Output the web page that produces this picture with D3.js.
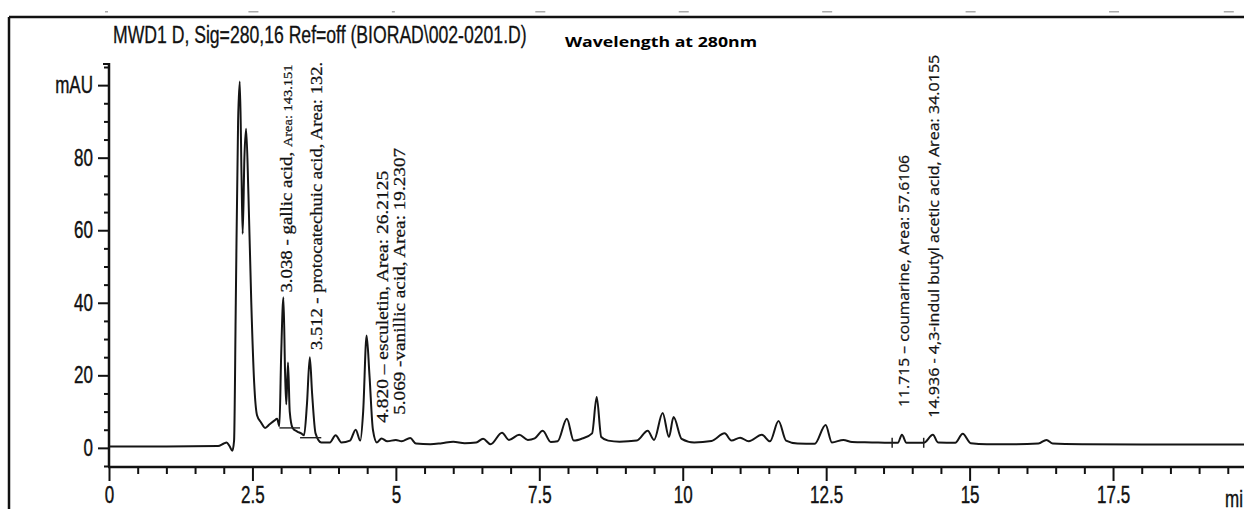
<!DOCTYPE html>
<html>
<head>
<meta charset="utf-8">
<script src="https://cdnjs.cloudflare.com/ajax/libs/d3/7.8.5/d3.min.js"></script>
<style>
  body { margin: 0; background: #fff; }
  svg { display: block; }
</style>
</head>
<body>
<div id="chart"></div>
<script>
// Chromatogram points: retention time (min) and signal (mAU)
var times = [0, 1.0, 1.9, 2.0, 2.05, 2.1, 2.15, 2.18, 2.21, 2.25, 2.28, 2.31, 2.33, 2.36, 2.39, 2.43, 2.48, 2.53, 2.58, 2.65,
  2.72, 2.8, 2.88, 2.93, 2.97, 3.0, 3.04, 3.07, 3.09, 3.12, 3.15, 3.2, 3.28, 3.35, 3.4, 3.45, 3.5, 3.54, 3.6, 3.7,
  3.85, 3.95, 4.05, 4.2, 4.3, 4.38, 4.43, 4.49, 4.54, 4.6, 4.67, 4.75, 4.85, 5.0, 5.1, 5.25, 5.35, 5.6, 5.8, 6.0,
  6.2, 6.4, 6.52, 6.65, 6.85, 6.97, 7.15, 7.3, 7.42, 7.56, 7.7, 7.82, 7.98, 8.1, 8.25, 8.42, 8.5, 8.58, 8.7, 8.9,
  9.2, 9.39, 9.5, 9.65, 9.76, 9.84, 9.98, 10.2, 10.5, 10.73, 10.85, 11.0, 11.15, 11.38, 11.52, 11.67, 11.8, 12.0, 12.3, 12.49,
  12.6, 12.8, 12.95, 13.3, 13.6, 13.75, 13.82, 13.9, 14.2, 14.36, 14.45, 14.75, 14.88, 15.02, 15.3, 15.8, 16.2, 16.34, 16.45, 17.0,
  18.0, 19.8];
var mAU = [0.4, 0.4, 0.5, 1.2, 1.5, 0.5, -0.8, 2, 40, 90, 101, 75, 59, 80, 88, 70, 40, 18, 9, 7,
  5.5, 6.5, 7.5, 8, 6, 25, 41.5, 20, 12, 23.5, 10, 5.5, 4.5, 4.0, 3.5, 12, 25, 15, 4, 1.5,
  1.5, 3.5, 1.5, 2, 5, 2, 10, 31, 20, 5, 1.5, 2.6, 1.8, 2.2, 1.8, 2.7, 1.2, 1.0, 1.3, 1.7,
  1.3, 1.5, 2.5, 1.0, 4.2, 2.2, 3.6, 2.2, 2.6, 4.7, 1.6, 1.8, 8, 2, 2.6, 4.0, 14, 3, 2.0, 1.7,
  2.0, 4.7, 2.2, 9.6, 3, 8.5, 2.5, 1.5, 1.9, 4.0, 2.0, 2.8, 1.8, 3.6, 1.8, 7.4, 2.0, 1.2, 1.1, 6.3,
  1.5, 2.2, 1.6, 1.5, 1.4, 1.4, 3.6, 1.4, 1.4, 3.6, 1.5, 1.4, 3.9, 1.3, 1.0, 1.0, 1.2, 2.2, 1.2, 1.0,
  0.9, 0.9];

// Integration baselines drawn by the software [t0, mAU0, t1, mAU1]
var baselines = [[2.97, 5.5, 3.33, 5.5], [3.33, 2.8, 3.7, 2.8]];
var eventTicks = [13.65, 14.2];

// Peak labels
var peakTexts = [
  ["3.038 - gallic acid, ", "Area: 143.151"],
  ["3.512 - protocatechuic acid, ", "Area: 132."],
  ["4.820 \u2013 esculetin, ", "Area: 26.2125"],
  ["5.069 -vanillic acid, ", "Area: 19.2307"],
  ["11.715 \u2013 coumarine, ", "Area: 57.6106"],
  ["14.936 - 4,3-indul butyl acetic acid, ", "Area: 34.0155"]
];
var peakTimes = [3.19, 3.71, 4.86, 5.16, 13.94, 14.46];
var peakHeights = [42.8, 27, 6.9, 9.1, 11.3, 8.3];

// Axis ticks
var xMajor = [0, 2.5, 5, 7.5, 10, 12.5, 15, 17.5];
var yMajor = [0, 20, 40, 60, 80, 100];
var yLabels = ["0", "20", "40", "60", "80", "mAU"];

var titleText = "MWD1 D, Sig=280,16 Ref=off (BIORAD\\002-0201.D)";
var subTitle = "Wavelength at 280nm";

var svgWidth = 1244;
var svgHeight = 509;

// label look (lengths in px along the rotated text)
var labelStyle = [
  { len: 228, font: "'Liberation Serif', serif", size: 17, small: 13 },
  { len: 288, font: "'Liberation Serif', serif", size: 17, small: 17 },
  { len: 252, font: "'Liberation Serif', serif", size: 17, small: 17 },
  { len: 267, font: "'Liberation Serif', serif", size: 17, small: 17 },
  { len: 252, font: "'Open Sans', sans-serif", size: 15, small: 15 },
  { len: 363, font: "'Open Sans', sans-serif", size: 15, small: 15 }
];

var svg = d3.select("#chart")
  .append("svg")
  .attr("width", svgWidth)
  .attr("height", svgHeight);

var sans = "'Liberation Sans', Arial, sans-serif";
var squeeze = 0.74;   // narrow look of the axis font

// scales
var x = d3.scaleLinear().domain([0, 19.8]).range([109, 1245]);
var y = d3.scaleLinear().domain([-5, 105]).range([466, 67]);

// frame lines
svg.append("line")
  .attr("x1", 9).attr("x2", svgWidth).attr("y1", 17).attr("y2", 17)
  .attr("stroke", "#111").attr("stroke-width", 2.5);
svg.append("line")
  .attr("x1", 9).attr("x2", 9).attr("y1", 17).attr("y2", svgHeight)
  .attr("stroke", "#111").attr("stroke-width", 2.5);

// remains of the panel above (cut off tick labels)
svg.selectAll(".cut")
  .data(xMajor.concat([19.5]))
  .enter()
  .append("rect")
  .attr("x", d => x(d) - 4)
  .attr("y", 11)
  .attr("width", d => d === 0 || d === 5 ? 3 : 10)
  .attr("height", 1.5)
  .attr("fill", "#aaa");

// titles
var title = svg.append("text")
  .attr("font-family", sans)
  .attr("font-size", 23)
  .attr("fill", "#111")
  .attr("stroke", "#111")
  .attr("stroke-width", 0.3)
  .text(titleText);
var tw = title.node().getComputedTextLength();
title.attr("transform", `translate(113,43) scale(${414 / tw},1)`);

svg.append("text")
  .attr("x", 565).attr("y", 47)
  .attr("font-family", "'Open Sans', sans-serif")
  .attr("font-weight", "bold")
  .attr("font-size", 15)
  .attr("textLength", 192)
  .attr("lengthAdjust", "spacingAndGlyphs")
  .attr("fill", "#000")
  .text(subTitle);

// y axis
var yMinor = d3.range(-5, 106, 5).filter(d => yMajor.indexOf(d) < 0);
svg.append("g")
  .attr("transform", "translate(109,0)")
  .call(d3.axisLeft(y).tickValues(yMinor).tickSize(5).tickFormat(""))
  .call(g => g.select(".domain").remove())
  .selectAll("line").attr("stroke", "#111").attr("stroke-width", 2);

var yAxis = svg.append("g")
  .attr("transform", "translate(109,0)")
  .call(d3.axisLeft(y).tickValues(yMajor).tickSize(11).tickPadding(5)
    .tickFormat((d, i) => yLabels[i]));
yAxis.select(".domain").remove();
yAxis.selectAll("line").attr("stroke", "#111").attr("stroke-width", 2);
yAxis.selectAll("text")
  .attr("font-family", sans)
  .attr("font-size", 23)
  .attr("fill", "#111")
  .attr("stroke", "#111")
  .attr("stroke-width", 0.4)
  .attr("x", -16 / squeeze)
  .attr("transform", `scale(${squeeze},1)`);

svg.append("line")
  .attr("x1", 109).attr("x2", 109).attr("y1", 63).attr("y2", 467)
  .attr("stroke", "#111").attr("stroke-width", 2.5);
svg.append("line")
  .attr("x1", 103).attr("x2", 109).attr("y1", 64).attr("y2", 64)
  .attr("stroke", "#111").attr("stroke-width", 2);

// x axis
var xAxisY = 467;
var xMinor = d3.range(0, 19.8, 0.5).filter(d => xMajor.indexOf(d) < 0);
svg.append("g")
  .attr("transform", `translate(0,${xAxisY})`)
  .call(d3.axisBottom(x).tickValues(xMinor).tickSize(7).tickFormat(""))
  .call(g => g.select(".domain").remove())
  .selectAll("line").attr("stroke", "#111").attr("stroke-width", 2);

var xAxis = svg.append("g")
  .attr("transform", `translate(0,${xAxisY})`)
  .call(d3.axisBottom(x).tickValues(xMajor).tickSize(14).tickPadding(6)
    .tickFormat(d => d3.format("")(d)));
xAxis.select(".domain").remove();
xAxis.selectAll("line").attr("stroke", "#111").attr("stroke-width", 2);
xAxis.selectAll("text")
  .attr("font-family", sans)
  .attr("font-size", 23)
  .attr("fill", "#111")
  .attr("stroke", "#111")
  .attr("stroke-width", 0.4)
  .attr("transform", `scale(${squeeze},1)`);

svg.append("line")
  .attr("x1", 108).attr("x2", svgWidth).attr("y1", xAxisY).attr("y2", xAxisY)
  .attr("stroke", "#111").attr("stroke-width", 2.5);

// axis unit, cut by the right edge like in the source image
svg.append("text")
  .attr("transform", `translate(1225,507) scale(${squeeze},1)`)
  .attr("font-family", sans)
  .attr("font-size", 23)
  .attr("fill", "#111")
  .attr("stroke", "#111")
  .attr("stroke-width", 0.4)
  .text("mi");

// chromatogram trace
var points = times.map((t, i) => [t, mAU[i]]);
var line = d3.line()
  .x(d => x(d[0]))
  .y(d => y(d[1]))
  .curve(d3.curveMonotoneX);

svg.append("path")
  .datum(points)
  .attr("d", line)
  .attr("fill", "none")
  .attr("stroke", "#151515")
  .attr("stroke-width", 2)
  .attr("stroke-linejoin", "round");

// integration baselines
svg.selectAll(".bl")
  .data(baselines)
  .enter()
  .append("line")
  .attr("x1", d => x(d[0])).attr("y1", d => y(d[1]))
  .attr("x2", d => x(d[2])).attr("y2", d => y(d[3]))
  .attr("stroke", "#222").attr("stroke-width", 1.4);

svg.selectAll(".ev")
  .data(eventTicks)
  .enter()
  .append("line")
  .attr("x1", d => x(d)).attr("x2", d => x(d))
  .attr("y1", y(1.4) - 5).attr("y2", y(1.4) + 5)
  .attr("stroke", "#222").attr("stroke-width", 1.5);

// rotated peak labels
peakTexts.forEach(function(p, i) {
  var st = labelStyle[i];
  var t = svg.append("text")
    .attr("transform", `translate(${x(peakTimes[i])},${y(peakHeights[i])}) rotate(-90)`)
    .attr("font-family", st.font)
    .attr("font-size", st.size)
    .attr("fill", "#111")
    .attr("stroke", "#111")
    .attr("stroke-width", 0.25)
    .attr("textLength", st.len)
    .attr("lengthAdjust", "spacingAndGlyphs");
  t.append("tspan").text(p[0]);
  t.append("tspan").attr("font-size", st.small).text(p[1]);
});
</script>
</body>
</html>
